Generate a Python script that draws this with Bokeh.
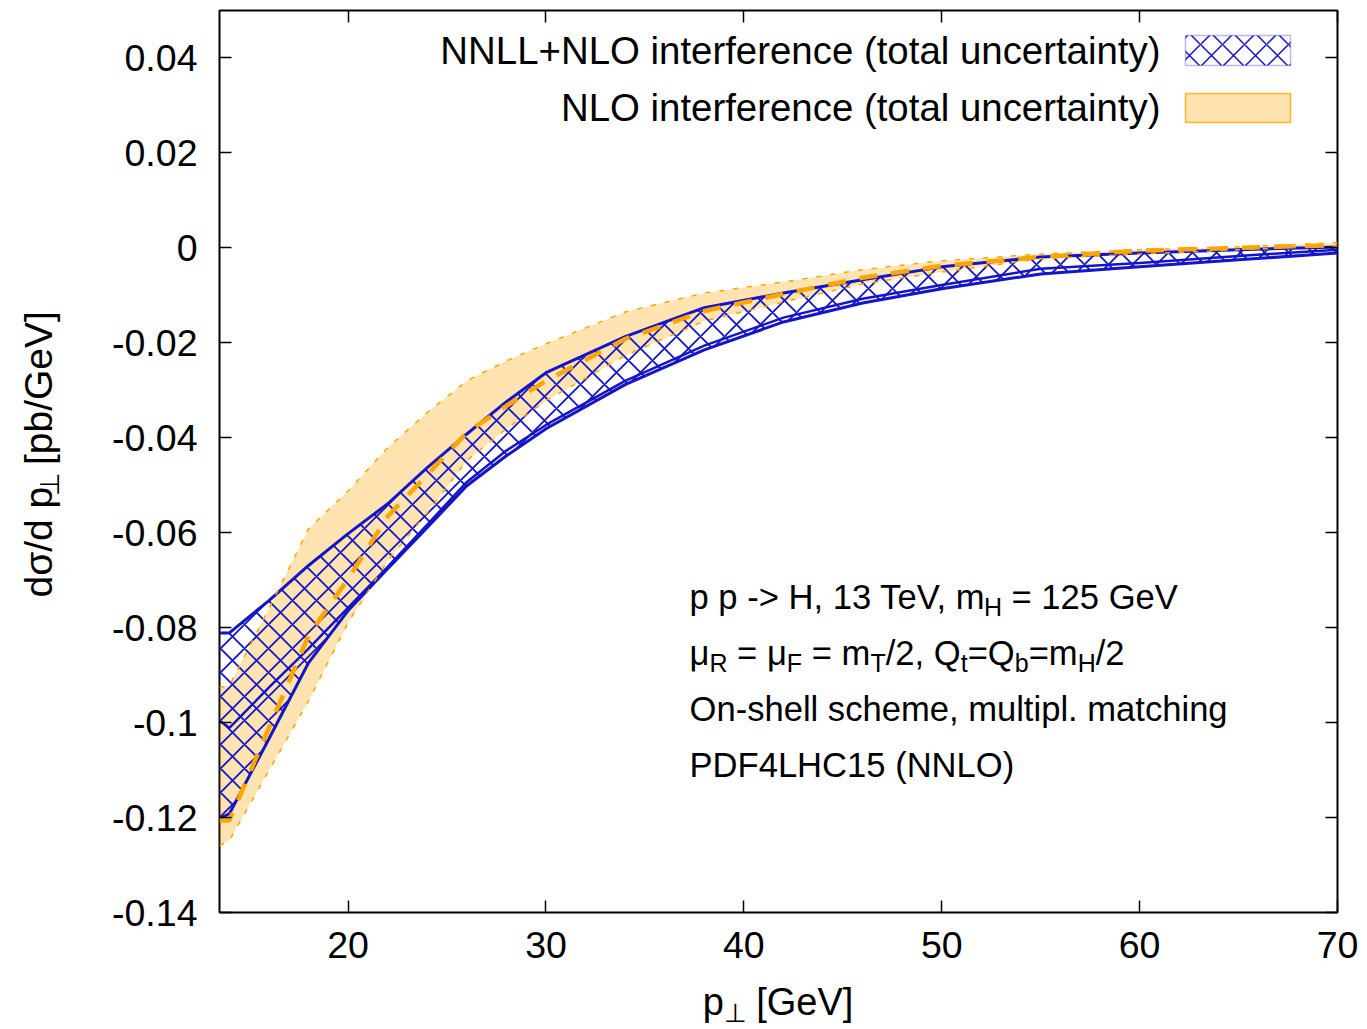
import math
from bokeh.plotting import figure
from bokeh.layouts import row, column
from bokeh.models import (Range1d, FixedTicker, LinearAxis, Label, BoxAnnotation,
                          CustomLabelingPolicy)
from bokeh.embed import file_html
from bokeh.resources import INLINE

# ---------------- data ----------------
pt = [13.5, 14, 16, 18, 20, 22, 24, 26, 28, 30, 34, 38, 42, 46, 50, 55, 60, 65, 70]

# NLO interference band (total uncertainty) and central value
nlo_up = [-0.0926, -0.0922, -0.0760, -0.0592, -0.0512, -0.0421, -0.0347, -0.0280, -0.0238, -0.0202,
          -0.0135, -0.0095, -0.0072, -0.0046, -0.0027, -0.0013, -0.0004, 0.0002, 0.0011]
nlo_lo = [-0.1259, -0.1248, -0.1101, -0.0954, -0.0789, -0.0659, -0.0558, -0.0448, -0.0381, -0.0322,
          -0.0227, -0.0154, -0.0114, -0.0076, -0.0051, -0.0023, -0.0013, -0.0004, 0.0004]
nlo_c = [-0.1206, -0.1206, -0.1011, -0.0817, -0.0697, -0.0566, -0.0478, -0.0389, -0.0333, -0.0280,
         -0.0192, -0.0133, -0.0097, -0.0063, -0.0038, -0.0019, -0.0006, 0.0000, 0.0006]

# NNLL+NLO interference band (total uncertainty)
nnll_up = [-0.0811, -0.0811, -0.0743, -0.0669, -0.0602, -0.0539, -0.0463, -0.0392, -0.0324, -0.0263,
           -0.0187, -0.0126, -0.0095, -0.0067, -0.0040, -0.0019, -0.0011, -0.0004, 0.0002]
nnll_lo = [-0.1202, -0.1192, -0.1034, -0.0874, -0.0764, -0.0676, -0.0589, -0.0501, -0.0438, -0.0381,
           -0.0288, -0.0215, -0.0156, -0.0116, -0.0086, -0.0055, -0.0040, -0.0025, -0.0011]
nnll_lo2 = [-0.0996, -0.1011, -0.0926, -0.0844, -0.0758, -0.0672, -0.0583, -0.0493, -0.0427, -0.0373,
            -0.0280, -0.0206, -0.0147, -0.0107, -0.0078, -0.0044, -0.0032, -0.0017, -0.0004]

x_ticks = [20, 30, 40, 50, 60, 70]
x_tick_labels = ["20", "30", "40", "50", "60", "70"]
y_ticks = [-0.14, -0.12, -0.1, -0.08, -0.06, -0.04, -0.02, 0, 0.02, 0.04]
y_tick_labels = ["-0.14", "-0.12", "-0.1", "-0.08", "-0.06", "-0.04", "-0.02", "0", "0.02", "0.04"]

legend_labels = ["NNLL+NLO interference (total uncertainty)", "NLO interference (total uncertainty)"]

# ---------------- styling / layout ----------------
FONT = "Liberation Sans"
BLUE = "#1414c8"
ORANGE = "#ffa500"

X0, X1 = 13.5, 70.0
Y0, Y1 = -0.14, 0.05

TOTAL_W = 1362
YF_W = 100          # width of the strip holding the y-axis title
H_MAIN = 982        # height of the main figure
XF_H = 45           # height of the strip holding the x-axis title
FR_L, FR_T, FR_R, FR_B = 219, 10, 1337, 912   # plot frame in page pixels

main = figure(width=TOTAL_W - YF_W, height=H_MAIN, x_range=Range1d(X0, X1), y_range=Range1d(Y0, Y1),
              output_backend="svg", toolbar_location=None,
              min_border_left=FR_L - YF_W, min_border_right=TOTAL_W - FR_R,
              min_border_top=FR_T, min_border_bottom=H_MAIN - FR_B)
main.background_fill_color = "white"
main.border_fill_color = "white"
main.outline_line_color = "black"
main.outline_line_width = 2
main.xgrid.visible = False
main.ygrid.visible = False

def style_axis(ax, show_labels=True):
    ax.axis_line_color = None
    ax.major_tick_in = 12
    ax.major_tick_out = 0
    ax.major_tick_line_width = 1.5
    ax.major_tick_line_color = "black"
    ax.minor_tick_line_color = None
    ax.major_label_text_font = FONT
    ax.major_label_text_color = "black"
    if show_labels:
        ax.major_label_text_font_size = "37.5px"
    else:
        ax.major_label_text_font_size = "1px"
        ax.major_label_standoff = 0
        ax.major_label_policy = CustomLabelingPolicy(code="return []")

main.xaxis.ticker = FixedTicker(ticks=x_ticks)
main.xaxis.major_label_overrides = {t: l for t, l in zip(x_ticks, x_tick_labels)}
main.yaxis.ticker = FixedTicker(ticks=y_ticks)
main.yaxis.major_label_overrides = {t: l for t, l in zip(y_ticks, y_tick_labels)}
style_axis(main.xaxis[0])
style_axis(main.yaxis[0])
main.xaxis.major_label_standoff = 19
main.yaxis.major_label_standoff = 22

top_ax = LinearAxis(ticker=FixedTicker(ticks=x_ticks))
style_axis(top_ax, show_labels=False)
main.add_layout(top_ax, "above")
right_ax = LinearAxis(ticker=FixedTicker(ticks=y_ticks))
style_axis(right_ax, show_labels=False)
main.add_layout(right_ax, "right")

# ---------------- bands and lines ----------------
main.varea(x=pt, y1=nlo_lo, y2=nlo_up, fill_color=ORANGE, fill_alpha=0.3)
main.varea(x=pt, y1=nnll_lo, y2=nnll_up, fill_color=None, fill_alpha=0,
           hatch_pattern="x", hatch_color=BLUE, hatch_weight=1.8, hatch_scale=24)
main.line(pt, nnll_up, line_color=BLUE, line_width=3)
main.line(pt, nnll_lo, line_color=BLUE, line_width=3)
main.line(pt, nnll_lo2, line_color=BLUE, line_width=2.5)
main.line(pt, nlo_up, line_color=ORANGE, line_width=1.5, line_dash="5 9")
main.line(pt, nlo_lo, line_color=ORANGE, line_width=1.5, line_dash="5 9")
main.line(pt, nlo_c, line_color=ORANGE, line_width=4.5, line_dash="18 14")

# ---------------- side strips for the axis titles ----------------
def strip(w, h):
    f = figure(width=w, height=h, x_range=Range1d(0, w), y_range=Range1d(0, h),
               x_axis_type=None, y_axis_type=None, output_backend="svg",
               toolbar_location=None, min_border=0)
    f.outline_line_color = None
    f.background_fill_color = "white"
    f.border_fill_color = "white"
    f.grid.visible = False
    return f

yfig = strip(YF_W, H_MAIN)
xfig = strip(TOTAL_W, XF_H)

# page pixel -> data coordinate converters
PX_PER_X = (FR_R - FR_L) / (X1 - X0)
PX_PER_Y = (FR_B - FR_T) / (Y1 - Y0)
def main_data(px, py):
    return X0 + (px - FR_L) / PX_PER_X, Y1 - (py - FR_T) / PX_PER_Y
def yfig_data(px, py):
    return px, H_MAIN - py
def xfig_data(px, py):
    return px, (H_MAIN + XF_H) - py

# ---------------- rich text helper (subscripts) ----------------
W = {' ': 278, 'p': 556, '-': 333, '>': 584, 'H': 722, ',': 278, '1': 556, '3': 556, 'T': 611,
     'e': 556, 'V': 667, 'm': 833, '=': 584, '2': 556, '5': 556, 'G': 778, 'μ': 576, 'R': 722,
     'F': 611, '/': 278, 'Q': 778, 't': 278, 'b': 556, 'd': 556, 'σ': 617, '[': 278, ']': 278,
     '⊥': 838}
KERN = {'Te': -111, 'V,': -135}
MID = 0.3465   # distance from baseline to the 'middle' anchor, in em

def width_px(s, size):
    w = sum(W.get(c, 556) for c in s)
    w += sum(KERN.get(s[i:i + 2], 0) for i in range(len(s) - 1))
    return w / 1000.0 * size

def add_rich(fig, to_data, pieces, px0, py0, size_main, size_sub, sub_drop, rotated=False):
    """Horizontal: (px0, py0) = start / baseline.  Rotated: px0 = baseline x, py0 = start y."""
    pos = 0.0
    for txt, is_sub in pieces:
        size = size_sub if is_sub else size_main
        lead = len(txt) - len(txt.lstrip(' '))
        start = pos + width_px(txt[:lead], size)
        drop = sub_drop if is_sub else 0.0
        k = MID * size
        if not rotated:
            sx, sy, ang = px0 + start, py0 + drop - k, 0.0
        else:
            sx, sy, ang = px0 + drop - k, py0 - start, math.pi / 2
        x, y = to_data(sx, sy)
        fig.add_layout(Label(x=x, y=y, text=txt.lstrip(' '), angle=ang, angle_units="rad",
                             text_font=FONT, text_font_size=f"{size}px", text_color="black",
                             text_align="left", text_baseline="middle"))
        pos += width_px(txt, size)
    return pos

# ---------------- annotation block ----------------
ann_lines = [
    [("p p -> H, 13 TeV, m", False), ("H", True), (" = 125 GeV", False)],
    [("μ", False), ("R", True), (" = μ", False), ("F", True), (" = m", False), ("T", True),
     ("/2, Q", False), ("t", True), ("=Q", False), ("b", True), ("=m", False), ("H", True), ("/2", False)],
    [("On-shell scheme, multipl. matching", False)],
    [("PDF4LHC15 (NNLO)", False)],
]
ann_baselines = [608, 664, 720, 776]
for line, b in zip(ann_lines, ann_baselines):
    add_rich(main, main_data, line, 689, b, 34.6, 25, 7)

# ---------------- legend (text right-aligned, key to the right) ----------------
for txt, cy in zip(legend_labels, [50, 107]):
    x, y = main_data(1160, cy)
    main.add_layout(Label(x=x, y=y, text=txt, text_font=FONT, text_font_size="38.4px",
                          text_color="black", text_align="right", text_baseline="middle"))
l, t = main_data(1185, 35)
r, b = main_data(1290, 65)
main.add_layout(BoxAnnotation(left=l, right=r, top=t, bottom=b,
                              fill_color=None, fill_alpha=0, hatch_pattern="x", hatch_color=BLUE,
                              hatch_weight=1.5, hatch_scale=22, line_color=BLUE, line_width=1.5))
l, t = main_data(1185, 93)
r, b = main_data(1290, 122)
main.add_layout(BoxAnnotation(left=l, right=r, top=t, bottom=b,
                              fill_color=ORANGE, fill_alpha=0.3, line_color=ORANGE, line_width=1.5,
                              line_alpha=0.8))

# ---------------- axis titles ----------------
xl_pieces = [("p", False), ("⊥", True), (" [GeV]", False)]
xl_w = sum(width_px(t, 26 if s else 38) for t, s in xl_pieces)
add_rich(xfig, xfig_data, xl_pieces, 777.5 - xl_w / 2, 1015, 38, 26, 7)

yl_pieces = [("dσ/d p", False), ("⊥", True), (" [pb/GeV]", False)]
yl_w = sum(width_px(t, 27 if s else 39) for t, s in yl_pieces)
add_rich(yfig, yfig_data, yl_pieces, 52, 456 + yl_w / 2 + 34, 39, 27, 7, rotated=True)

layout = column(row(yfig, main, spacing=0), xfig, spacing=0)
open("out.html", "w").write(file_html(layout, INLINE))
